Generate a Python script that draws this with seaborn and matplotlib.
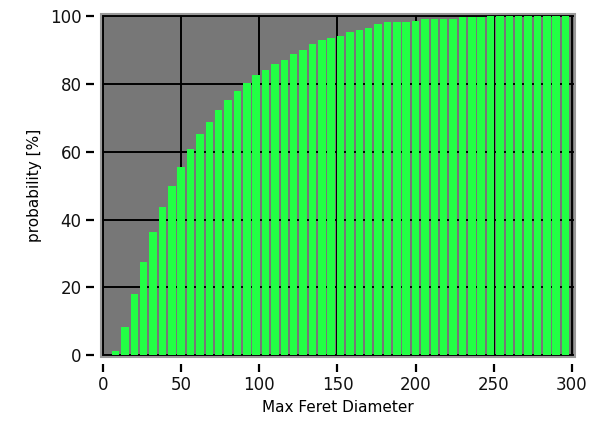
import matplotlib
matplotlib.use('Agg')
import pandas as pd
import seaborn as sns
import matplotlib.pyplot as plt
from matplotlib.patches import Rectangle

# cumulative distribution of max Feret diameter (bin centres, % of particles)
diameter = [8, 14, 20, 26, 32, 38, 44, 50, 56, 62,
            68, 74, 80, 86, 92, 98, 104, 110, 116, 122,
            128, 134, 140, 146, 152, 158, 164, 170, 176, 182,
            188, 194, 200, 206, 212, 218, 224, 230, 236, 242,
            248, 254, 260, 266, 272, 278, 284, 290, 296]
probability = [1.4, 8.2, 18.0, 27.6, 36.3, 43.6, 50.0, 55.6, 60.8, 65.3,
               68.9, 72.4, 75.2, 77.9, 80.3, 82.5, 84.1, 85.9, 87.0, 88.9,
               90.0, 91.8, 92.9, 93.5, 94.2, 95.3, 96.0, 96.6, 97.6, 98.1,
               98.1, 98.1, 98.6, 99.1, 99.1, 99.1, 99.1, 99.6, 99.6, 99.6,
               100, 100, 100, 100, 100, 100, 100, 100, 100]
x_ticks = [0, 50, 100, 150, 200, 250, 300]
y_ticks = [0, 20, 40, 60, 80, 100]

df = pd.DataFrame({'diameter': diameter, 'probability': probability})

fig = plt.figure(figsize=(5.98, 4.23), dpi=100)
ax = fig.add_axes([0.169, 0.156, 0.7925, 0.811])
ax.set_facecolor('#777777')

sns.barplot(data=df, x='diameter', y='probability', native_scale=True,
            width=0.8, color='#22ff44', saturation=1, linewidth=0, ax=ax,
            zorder=3)

ax.set_xlim(-1.3, 302)
ax.set_ylim(-0.5, 100.6)
ax.set_xticks(x_ticks)
ax.set_yticks(y_ticks)
ax.grid(True, color='black', linewidth=1.4, zorder=1)
ax.set_axisbelow(True)

for side in ['top', 'right', 'bottom', 'left']:
    ax.spines[side].set_visible(False)
ax.spines['bottom'].set_position(('outward', 5))
ax.spines['left'].set_position(('outward', 5))
ax.add_patch(Rectangle((0, 0), 1, 1, transform=ax.transAxes, fill=False,
                       edgecolor='#9a9a9a', linewidth=1.5, clip_on=False,
                       zorder=5))

ax.tick_params(axis='both', direction='out', length=6, width=1.6,
               color='black', labelsize=12, labelcolor='#111111', pad=3)

ax.set_xlabel('Max Feret Diameter', fontsize=11, labelpad=4)
ax.set_ylabel('probability [%]', fontsize=11, labelpad=6)

fig.savefig('out.png', dpi=100)
